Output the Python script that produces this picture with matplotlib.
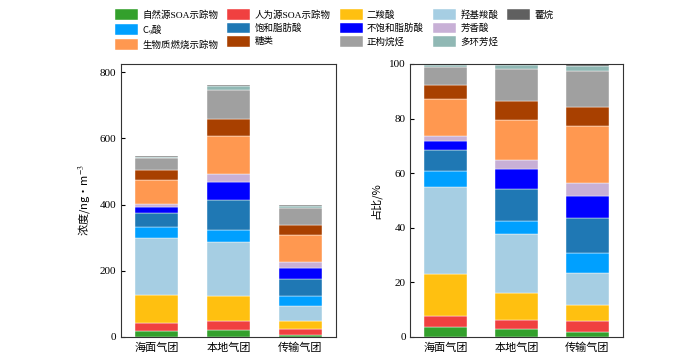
import matplotlib
matplotlib.use("Agg")
import matplotlib.pyplot as plt
from matplotlib.patches import Patch
import numpy as np

plt.rcParams['font.family'] = ['Liberation Serif', 'Noto Sans CJK SC', 'DejaVu Sans']
plt.rcParams['mathtext.fontset'] = 'stix'
CJK = ['Noto Sans CJK SC', 'DejaVu Sans']

categories = ['海面气团', '本地气团', '传输气团']
species = ['自然源SOA示踪物', '人为源SOA示踪物', '二羧酸', '羟基羧酸', 'C$_9$酸',
           '饱和脂肪酸', '不饱和脂肪酸', '芳香酸', '生物质燃烧示踪物', '糖类',
           '正构烷烃', '多环芳烃', '藿烷']
colors = ['#33a02c', '#f04040', '#ffc010', '#a6cee3', '#00a0ff', '#1f78b4',
          '#0000ff', '#c8b0d6', '#ff9850', '#a84000', '#a0a0a0', '#90b8b4', '#606060']

# concentrations (ng/m3) per species for each air mass
natural_soa = [19, 21, 7]
anthro_soa = [22, 27, 16]
dicarboxylic = [85, 76, 24]
hydroxy = [173, 164, 47]
c9_acid = [33, 36, 29]
saturated_fa = [42, 89, 52]
unsaturated_fa = [18, 54, 32]
aromatic = [10, 25, 19]
biomass = [73, 114, 83]
sugars = [29, 53, 28]
n_alkanes = [36, 87, 52]
pah = [3, 13, 8]
hopanes = [3, 2, 3]

series = [natural_soa, anthro_soa, dicarboxylic, hydroxy, c9_acid, saturated_fa,
          unsaturated_fa, aromatic, biomass, sugars, n_alkanes, pah, hopanes]
conc = np.array(series, dtype=float)
pct = conc / conc.sum(axis=0) * 100

fig = plt.figure(figsize=(7.0, 3.58), dpi=100)
ax1 = fig.add_axes([0.1724, 0.0587, 0.3076, 0.7626])
ax2 = fig.add_axes([0.5857, 0.0587, 0.3043, 0.7626])

x = np.arange(len(categories))
handles = []
for ax, data in ((ax1, conc), (ax2, pct)):
    bottom = np.zeros(len(categories))
    hs = []
    for i, row in enumerate(data):
        h = ax.bar(x, row, width=0.6, bottom=bottom, color=colors[i],
                   edgecolor='white', linewidth=0.3, label=species[i])
        hs.append(h)
        bottom += row
    handles = hs
    ax.set_xticks(x)
    ax.set_xticklabels(categories, fontsize=8, family=CJK)
    ax.tick_params(axis='x', length=0, pad=4)
    ax.tick_params(axis='y', direction='in', length=3, labelsize=8, pad=3)
    ax.set_xlim(-0.5, 2.5)
    for s in ax.spines.values():
        s.set_linewidth(0.8)
        s.set_color('#333333')

ax1.set_ylim(0, 825)
ax1.set_yticks([0, 200, 400, 600, 800])
ax1.set_ylabel('浓度/ng·m$^{-3}$', fontsize=8, labelpad=6, family=CJK)
ax2.set_ylim(0, 100)
ax2.set_yticks([0, 20, 40, 60, 80, 100])
ax2.set_ylabel('占比/%', fontsize=8, labelpad=6, family=CJK)

blank = Patch(facecolor='none', edgecolor='none')
order = [0, 4, 8, 1, 5, 9, 2, 6, 10, 3, 7, 11, 12]
leg_handles = [handles[i] for i in order] + [blank, blank]
leg_labels = [species[i] for i in order] + ['', '']
leg = fig.legend(leg_handles, leg_labels,
                 loc='upper left', bbox_to_anchor=(0.160, 0.982), ncol=5, frameon=False,
                 fontsize=6.8, handlelength=2.45, handleheight=1.4, handletextpad=0.45,
                 columnspacing=0.95, labelspacing=0.25, borderaxespad=0.1, borderpad=0.2)
for t in leg.get_texts():
    if '$' in t.get_text():
        t.set_family(CJK)

fig.savefig('out.png', dpi=100)
